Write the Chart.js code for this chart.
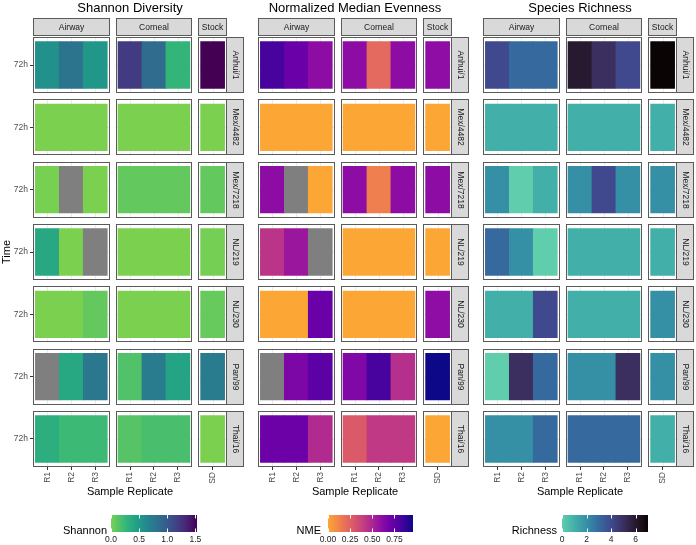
<!DOCTYPE html>
<html lang="en">
<head>
<meta charset="UTF-8">
<title>Diversity heatmaps</title>
<script src="https://cdn.jsdelivr.net/npm/chart.js@4.4.0/dist/chart.umd.min.js"></script>
<style>
  body { margin: 0; background: #fff; }
  #wrap { position: relative; width: 696px; height: 545px; }
  #wrap canvas { position: absolute; top: 0; }
</style>
</head>
<body>
<div id="wrap">
  <canvas id="shannonChart" width="245" height="545" style="left:0px"></canvas>
  <canvas id="nmeChart" width="225" height="545" style="left:245px"></canvas>
  <canvas id="richChart" width="226" height="545" style="left:470px"></canvas>
</div>
<script>
// rows / columns
const strains = ['Anhui/1', 'Mex/4482', 'Mex/7218', 'NL/219', 'NL/230', 'Pan/99', 'Thai/16'];
const groups = ['Airway', 'Corneal', 'Stock'];
const replicates = ['R1', 'R2', 'R3', 'R1', 'R2', 'R3', 'SD'];
const replicateGroup = [0, 0, 0, 1, 1, 1, 2];
const timeLabel = '72h';

// values per strain, columns in replicate order (null = NA)
const shannon = [
  [0.57, 0.80, 0.52, 1.20, 0.86, 0.27, 1.53],
  [0, 0, 0, 0, 0, 0, 0],
  [0.01, null, 0, 0.08, 0.08, 0.08, 0.08],
  [0.38, 0, null, 0, 0, 0, 0.02],
  [0, 0, 0.08, 0, 0, 0, 0.07],
  [null, 0.38, 0.77, 0.15, 0.74, 0.42, 0.74],
  [0.33, 0.23, 0.23, 0.13, 0.18, 0.18, 0.0]
];
const nme = [
  [0.82, 0.72, 0.61, 0.61, 0.22, 0.61, 0.60],
  [0, 0, 0, 0, 0, 0, 0],
  [0.61, null, 0, 0.61, 0.14, 0.61, 0.61],
  [0.44, 0.56, null, 0, 0, 0, 0],
  [0, 0, 0.72, 0, 0, 0, 0.60],
  [null, 0.66, 0.76, 0.65, 0.82, 0.46, 0.96],
  [0.71, 0.71, 0.48, 0.28, 0.42, 0.42, 0]
];
const richness = [
  [4, 3, 3, 6, 5, 4, 7],
  [1, 1, 1, 1, 1, 1, 1],
  [2, 0, 1, 2, 4, 2, 2],
  [3, 2, 0, 1, 1, 1, 1],
  [1, 1, 4, 1, 1, 1, 2],
  [0, 5, 3, 2, 2, 5, 2],
  [2, 2, 3, 3, 3, 3, 1]
];

// legend ticks
const shannonTicks = [0, 0.5, 1.0, 1.5];
const nmeTicks = [0, 0.25, 0.5, 0.75];
const richTicks = [0, 2, 4, 6];

// colour ramps
const viridis = ['#440154', '#482878', '#3E4A89', '#31688E', '#26828E', '#1F9E89', '#35B779', '#6DCD59', '#B4DE2C', '#FDE725'];
const plasma = ['#0D0887', '#41049D', '#6A00A8', '#8F0DA4', '#B12A90', '#CC4778', '#E16462', '#F2844B', '#FCA636', '#FCCE25', '#F0F921'];
const makoRev = ['#60CEAC', '#42B0A9', '#3590A5', '#366A9F', '#40498E', '#3A2F5F', '#27192F', '#0B0405'];
const NA_COLOR = '#7F7F7F';

const FONT = "'Liberation Sans', Arial, sans-serif";
Chart.defaults.font.family = FONT;

// facet layout in data units (ggplot-like discrete expansion)
const facetStart = [0, 3.45, 6.9];
const facetWidth = [3.2, 3.2, 1.2];
const rowStep = 1.335, rowSize = 1.2;
const yMax = (strains.length - 1) * rowStep + rowSize;
const colCenter = replicates.map((r, j) => {
  const g = replicateGroup[j];
  const k = replicateGroup.slice(0, j).filter(v => v === g).length;
  return facetStart[g] + 0.6 + k;
});

function hexRgb(h) {
  const n = parseInt(h.slice(1), 16);
  return [(n >> 16) & 255, (n >> 8) & 255, n & 255];
}
function ramp(cols, t) {
  t = Math.max(0, Math.min(1, t));
  const p = t * (cols.length - 1);
  const i = Math.min(Math.floor(p), cols.length - 2);
  const f = p - i;
  const a = hexRgb(cols[i]), b = hexRgb(cols[i + 1]);
  const c = a.map((v, k) => Math.round(v + (b[k] - v) * f));
  return `rgb(${c[0]},${c[1]},${c[2]})`;
}
const shannonColor = v => ramp(viridis, 0.8 * (1 - v / 1.53));
const nmeColor = v => ramp(plasma, 0.8 * (1 - v / 0.96));
const richColor = v => ramp(makoRev, v / 7);

function facetPlugin(cfg) {
  return {
    id: 'facets',
    beforeDatasetsDraw(chart) {
      const { ctx, scales: { x, y } } = chart;
      ctx.save();
      ctx.strokeStyle = '#EBEBEB';
      ctx.lineWidth = 1;
      strains.forEach((s, i) => {
        const top = y.getPixelForValue(i * rowStep);
        const bot = y.getPixelForValue(i * rowStep + rowSize);
        const mid = Math.round(y.getPixelForValue(i * rowStep + 0.6)) + 0.5;
        groups.forEach((g, k) => {
          const l = x.getPixelForValue(facetStart[k]);
          const r = x.getPixelForValue(facetStart[k] + facetWidth[k]);
          ctx.beginPath();
          ctx.moveTo(l, mid); ctx.lineTo(r, mid);
          colCenter.forEach((c, j) => {
            if (replicateGroup[j] !== k) return;
            const px = Math.round(x.getPixelForValue(c)) + 0.5;
            ctx.moveTo(px, top); ctx.lineTo(px, bot);
          });
          ctx.stroke();
        });
      });
      ctx.restore();
    },
    afterDatasetsDraw(chart) {
      const { ctx, chartArea, scales: { x, y } } = chart;
      ctx.save();
      ctx.lineWidth = 1;
      ctx.strokeStyle = '#5A5A5A';
      // panel borders + row strips
      strains.forEach((s, i) => {
        const top = Math.round(y.getPixelForValue(i * rowStep)) + 0.5;
        const bot = Math.round(y.getPixelForValue(i * rowStep + rowSize)) - 0.5;
        groups.forEach((g, k) => {
          const l = Math.round(x.getPixelForValue(facetStart[k])) + 0.5;
          const r = Math.round(x.getPixelForValue(facetStart[k] + facetWidth[k])) - 0.5;
          ctx.strokeRect(l, top, r - l, bot - top);
        });
        const sl = Math.round(chartArea.right) - 0.5;
        ctx.fillStyle = '#D9D9D9';
        ctx.fillRect(sl, top, 17, bot - top);
        ctx.strokeRect(sl, top, 17, bot - top);
        ctx.save();
        ctx.translate(sl + 8.5, (top + bot) / 2);
        ctx.rotate(Math.PI / 2);
        ctx.fillStyle = '#1A1A1A';
        ctx.font = '8.5px ' + FONT;
        ctx.textAlign = 'center';
        ctx.textBaseline = 'middle';
        ctx.fillText(s, 0, 0);
        ctx.restore();
      });
      // column strips
      const st = Math.round(chartArea.top) - 18.5;
      groups.forEach((g, k) => {
        const l = Math.round(x.getPixelForValue(facetStart[k])) + 0.5;
        const r = Math.round(x.getPixelForValue(facetStart[k] + facetWidth[k])) - 0.5;
        ctx.fillStyle = '#D9D9D9';
        ctx.fillRect(l, st, r - l, 17);
        ctx.strokeRect(l, st, r - l, 17);
        ctx.fillStyle = '#1A1A1A';
        ctx.font = '8.5px ' + FONT;
        ctx.textAlign = 'center';
        ctx.textBaseline = 'middle';
        ctx.fillText(g, (l + r) / 2, st + 9);
      });
      // title
      ctx.fillStyle = '#000';
      ctx.font = '13px ' + FONT;
      ctx.textAlign = 'center';
      ctx.textBaseline = 'middle';
      ctx.fillText(cfg.title, (chartArea.left + chartArea.right) / 2, 8);
      // colour bar legend
      const L = cfg.legend, by = 515, bh = 17;
      for (let p = 0; p < L.w; p++) {
        ctx.fillStyle = cfg.colorFn((p + 0.5) / L.w * L.vmax);
        ctx.fillRect(L.x + p, by, 1, bh);
      }
      ctx.strokeStyle = '#FFFFFF';
      ctx.beginPath();
      L.ticks.forEach(v => {
        const px = Math.round(L.x + v / L.vmax * L.w) + 0.5;
        ctx.moveTo(px, by); ctx.lineTo(px, by + 3.5);
        ctx.moveTo(px, by + bh - 3.5); ctx.lineTo(px, by + bh);
      });
      ctx.stroke();
      ctx.fillStyle = '#1A1A1A';
      ctx.font = '8.5px ' + FONT;
      ctx.textAlign = 'center';
      ctx.textBaseline = 'middle';
      L.ticks.forEach((v, i) => {
        ctx.fillText(L.labels[i], L.x + v / L.vmax * L.w, 540);
      });
      ctx.fillStyle = '#000';
      ctx.font = '11px ' + FONT;
      ctx.textAlign = 'right';
      ctx.textBaseline = 'alphabetic';
      ctx.fillText(L.title, L.titleRight, 533.5);
      ctx.restore();
    }
  };
}

function makePanel(id, cfg) {
  const points = [], colors = [];
  strains.forEach((s, i) => {
    cfg.values[i].forEach((v, j) => {
      points.push({ x: colCenter[j], y: [i * rowStep + 0.1, i * rowStep + 1.1] });
      colors.push(v === null ? NA_COLOR : cfg.colorFn(v));
    });
  });
  return new Chart(document.getElementById(id), {
    type: 'bar',
    data: {
      datasets: [{
        data: points,
        backgroundColor: colors,
        borderWidth: 0,
        barThickness: 24
      }]
    },
    options: {
      responsive: false,
      animation: false,
      events: [],
      layout: { padding: { top: 37, right: cfg.padRight, bottom: 46, left: cfg.padLeft } },
      plugins: { legend: { display: false }, tooltip: { enabled: false } },
      scales: {
        x: {
          type: 'linear',
          offset: false,
          min: 0,
          max: facetStart[2] + facetWidth[2],
          afterBuildTicks: s => { s.ticks = colCenter.map(v => ({ value: v })); },
          afterFit: s => { s.height = 32; s.paddingLeft = 0; s.paddingRight = 0; },
          ticks: {
            autoSkip: false,
            minRotation: 90,
            maxRotation: 90,
            padding: 2,
            color: '#4D4D4D',
            font: { size: 8.5 },
            callback: (v, i) => replicates[i]
          },
          grid: { drawOnChartArea: false, offset: false, tickLength: 3, color: '#333333' },
          border: { display: false },
          title: { display: true, text: 'Sample Replicate', color: '#000', font: { size: 11 }, padding: 0 }
        },
        y: {
          type: 'linear',
          reverse: true,
          min: 0,
          max: yMax,
          display: cfg.showY,
          afterBuildTicks: s => { s.ticks = strains.map((n, i) => ({ value: i * rowStep + 0.6 })); },
          afterFit: s => { s.width = cfg.showY ? 33 : 0; },
          ticks: { color: '#4D4D4D', font: { size: 8.5 }, padding: 2, callback: () => timeLabel },
          grid: { drawOnChartArea: false, tickLength: 3, color: '#333333' },
          border: { display: false },
          title: { display: true, text: 'Time', color: '#000', font: { size: 11 }, padding: 0 }
        }
      }
    },
    plugins: [facetPlugin(cfg)]
  });
}

makePanel('shannonChart', {
  title: 'Shannon Diversity', values: shannon, colorFn: shannonColor,
  showY: true, padLeft: 0, padRight: 18,
  legend: { title: 'Shannon', titleRight: 107, x: 111, w: 86, vmax: 1.53,
            ticks: shannonTicks, labels: ['0.0', '0.5', '1.0', '1.5'] }
});
makePanel('nmeChart', {
  title: 'Normalized Median Evenness', values: nme, colorFn: nmeColor,
  showY: false, padLeft: 13, padRight: 18,
  legend: { title: 'NME', titleRight: 76, x: 83, w: 85, vmax: 0.96,
            ticks: nmeTicks, labels: ['0.00', '0.25', '0.50', '0.75'] }
});
makePanel('richChart', {
  title: 'Species Richness', values: richness, colorFn: richColor,
  showY: false, padLeft: 13, padRight: 19,
  legend: { title: 'Richness', titleRight: 87, x: 92, w: 86, vmax: 7,
            ticks: richTicks, labels: ['0', '2', '4', '6'] }
});
</script>
</body>
</html>
